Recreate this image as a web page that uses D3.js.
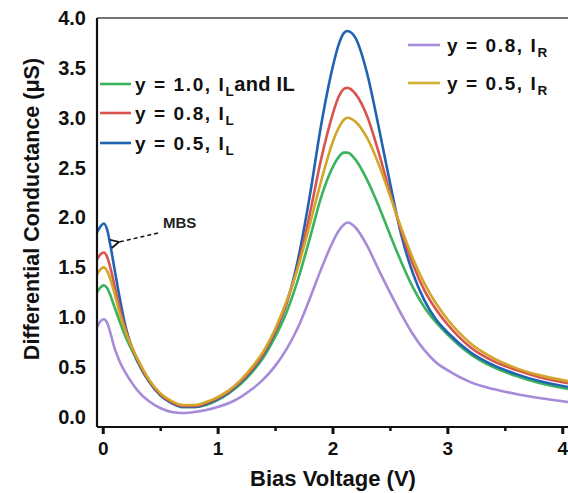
<!DOCTYPE html>
<html>
<head>
<meta charset="utf-8">
<script src="https://cdn.jsdelivr.net/npm/d3@7"></script>
<style>
  html, body { margin: 0; padding: 0; background: #fff; }
  svg { display: block; }
  text { font-family: "Liberation Sans", Arial, sans-serif; }
</style>
</head>
<body>
<svg id="chart" width="568" height="493"></svg>
<script>
// ---- Data ----
const biasVoltage = [-0.05, -0.02, 0.01, 0.04, 0.07, 0.1, 0.15, 0.2, 0.25, 0.3, 0.4, 0.5, 0.6, 0.7, 0.8, 0.9, 1.0, 1.1, 1.2, 1.3, 1.4, 1.5, 1.6, 1.7, 1.8, 1.9, 2.0, 2.05, 2.1, 2.13, 2.2, 2.3, 2.4, 2.5, 2.6, 2.7, 2.8, 2.9, 3.0, 3.2, 3.4, 3.6, 3.8, 4.05];

const gY10L = [1.25, 1.30, 1.32, 1.29, 1.21, 1.11, 0.95, 0.80, 0.68, 0.56, 0.36, 0.22, 0.14, 0.10, 0.10, 0.12, 0.17, 0.24, 0.33, 0.45, 0.60, 0.80, 1.05, 1.38, 1.78, 2.20, 2.50, 2.60, 2.65, 2.65, 2.58, 2.38, 2.12, 1.83, 1.55, 1.30, 1.10, 0.95, 0.83, 0.63, 0.50, 0.41, 0.34, 0.28];
const gY08L = [1.58, 1.63, 1.65, 1.60, 1.48, 1.33, 1.08, 0.87, 0.71, 0.58, 0.37, 0.23, 0.15, 0.11, 0.11, 0.14, 0.19, 0.26, 0.36, 0.48, 0.64, 0.86, 1.14, 1.52, 2.02, 2.58, 3.03, 3.20, 3.29, 3.30, 3.24, 3.02, 2.66, 2.25, 1.86, 1.53, 1.27, 1.08, 0.93, 0.70, 0.56, 0.47, 0.40, 0.34];
const gY05L = [1.85, 1.91, 1.94, 1.87, 1.70, 1.50, 1.18, 0.90, 0.71, 0.57, 0.36, 0.22, 0.14, 0.10, 0.10, 0.13, 0.18, 0.25, 0.35, 0.47, 0.63, 0.85, 1.14, 1.58, 2.20, 2.92, 3.50, 3.72, 3.85, 3.87, 3.80, 3.45, 2.92, 2.35, 1.82, 1.44, 1.17, 0.98, 0.85, 0.65, 0.52, 0.43, 0.36, 0.30];
const gY08R = [0.90, 0.96, 0.98, 0.94, 0.83, 0.70, 0.55, 0.44, 0.35, 0.27, 0.16, 0.09, 0.05, 0.04, 0.05, 0.07, 0.10, 0.14, 0.20, 0.28, 0.38, 0.51, 0.68, 0.90, 1.18, 1.48, 1.75, 1.86, 1.93, 1.95, 1.90, 1.72, 1.48, 1.25, 1.03, 0.83, 0.67, 0.55, 0.47, 0.35, 0.28, 0.23, 0.19, 0.15];
const gY05R = [1.43, 1.48, 1.50, 1.46, 1.37, 1.25, 1.03, 0.85, 0.71, 0.59, 0.38, 0.24, 0.16, 0.12, 0.12, 0.15, 0.20, 0.27, 0.37, 0.50, 0.66, 0.88, 1.16, 1.50, 1.92, 2.36, 2.75, 2.89, 2.98, 3.00, 2.96, 2.80, 2.54, 2.22, 1.89, 1.59, 1.34, 1.14, 0.98, 0.74, 0.59, 0.49, 0.42, 0.36];

const xTickValues = [0, 1, 2, 3, 4];
const xMinorTicks = [0.5, 1.5, 2.5, 3.5];
const yTickValues = [0.0, 0.5, 1.0, 1.5, 2.0, 2.5, 3.0, 3.5, 4.0];

const seriesList = [
  { key: "y08R", values: gY08R, color: "#a68bd8" },
  { key: "y10L", values: gY10L, color: "#3bb25c" },
  { key: "y05L", values: gY05L, color: "#2163b3" },
  { key: "y08L", values: gY08L, color: "#d9534f" },
  { key: "y05R", values: gY05R, color: "#d2a62a" }
];

// ---- Layout ----
const svg = d3.select("#chart");
const plotL = 97, plotR = 568, plotT = 18, plotB = 427;

const x = d3.scaleLinear().domain([-0.05, 4.05]).range([plotL, plotR]);
const y = d3.scaleLinear().domain([-0.1, 4.0]).range([plotB, plotT]);

svg.append("line")
  .attr("x1", plotL).attr("x2", plotR).attr("y1", plotT).attr("y2", plotT)
  .attr("stroke", "#444").attr("stroke-width", 1.6);

const line = d3.line()
  .x((d, i) => x(biasVoltage[i]))
  .y(d => y(d))
  .curve(d3.curveMonotoneX);

const gCurves = svg.append("g");
seriesList.forEach(s => {
  gCurves.append("path")
    .datum(s.values)
    .attr("d", line)
    .attr("fill", "none")
    .attr("stroke", s.color)
    .attr("stroke-width", 2.6)
    .attr("stroke-linejoin", "round");
});

const xAxis = d3.axisBottom(x).tickValues(xTickValues).tickFormat(d3.format("d")).tickSize(7).tickPadding(8);
const gx = svg.append("g").attr("transform", `translate(0,${plotB})`).call(xAxis);
gx.select(".domain").attr("stroke", "#111").attr("stroke-width", 2.2).attr("d", `M${plotL},0H${plotR}`);
gx.selectAll(".tick line").attr("stroke", "#111").attr("stroke-width", 3);
gx.selectAll(".tick text").attr("font-size", 19).attr("font-weight", "bold").attr("fill", "#111");

const xMinor = d3.axisBottom(x).tickValues(xMinorTicks).tickSize(4).tickFormat("");
const gxm = svg.append("g").attr("transform", `translate(0,${plotB})`).call(xMinor);
gxm.select(".domain").remove();
gxm.selectAll(".tick line").attr("stroke", "#111").attr("stroke-width", 2.5);

const yAxis = d3.axisLeft(y).tickValues(yTickValues).tickFormat(d3.format(".1f")).tickSize(0).tickPadding(11);
const gy = svg.append("g").attr("transform", `translate(${plotL},0)`).call(yAxis);
gy.select(".domain").attr("stroke", "#111").attr("stroke-width", 2.2).attr("d", `M0,${plotT}V${plotB}`);
gy.selectAll(".tick text").attr("font-size", 20).attr("font-weight", "bold").attr("fill", "#111");

svg.append("text")
  .attr("x", 333).attr("y", 486)
  .attr("text-anchor", "middle")
  .attr("font-size", 22).attr("font-weight", "bold").attr("fill", "#111")
  .text("Bias Voltage (V)");

svg.append("text")
  .attr("transform", `translate(39,209) rotate(-90)`)
  .attr("text-anchor", "middle")
  .attr("font-size", 21.5).attr("font-weight", "bold").attr("fill", "#111")
  .text("Differential Conductance (μS)");

const legendLeft = [
  { color: "#3bb25c", yPos: 84, main: "y = 1.0, I", sub: "L", tail: "and IL" },
  { color: "#d9534f", yPos: 113, main: "y = 0.8, I", sub: "L", tail: "" },
  { color: "#2163b3", yPos: 143, main: "y = 0.5, I", sub: "L", tail: "" }
];
const legendRight = [
  { color: "#a68bd8", yPos: 45, main: "y = 0.8, I", sub: "R", tail: "" },
  { color: "#d2b030", yPos: 83, main: "y = 0.5, I", sub: "R", tail: "" }
];

function drawLegend(items, lx1, lx2, tx) {
  items.forEach(it => {
    svg.append("line")
      .attr("x1", lx1).attr("x2", lx2).attr("y1", it.yPos).attr("y2", it.yPos)
      .attr("stroke", it.color).attr("stroke-width", 2.6);
    const t = svg.append("text")
      .attr("x", tx).attr("y", it.yPos + 7)
      .attr("font-size", 19).attr("font-weight", "bold").attr("fill", "#111")
      .attr("letter-spacing", 1.6);
    t.append("tspan").text(it.main);
    t.append("tspan").attr("font-size", 13.5).attr("dy", 5).attr("letter-spacing", 0.5).text(it.sub);
    if (it.tail) {
      t.append("tspan").attr("dy", -5).attr("font-size", 20).attr("letter-spacing", 0.3).text(it.tail);
    }
  });
}
drawLegend(legendLeft, 100, 131, 135);
drawLegend(legendRight, 408, 440, 447);

svg.append("defs").append("marker")
  .attr("id", "arrow").attr("viewBox", "0 0 10 10")
  .attr("refX", 1).attr("refY", 5)
  .attr("markerWidth", 7).attr("markerHeight", 7)
  .attr("orient", "auto-start-reverse")
  .append("path").attr("d", "M9,1 L1,5 L9,9")
  .attr("fill", "none").attr("stroke", "#111").attr("stroke-width", 1.6);

svg.append("line")
  .attr("x1", 158).attr("y1", 233).attr("x2", 119).attr("y2", 242)
  .attr("stroke", "#111").attr("stroke-width", 1.5)
  .attr("stroke-dasharray", "4,3")
  .attr("marker-end", "url(#arrow)");

svg.append("text")
  .attr("x", 163).attr("y", 228)
  .attr("font-size", 15).attr("font-weight", "bold").attr("fill", "#222")
  .text("MBS");
</script>
</body>
</html>
